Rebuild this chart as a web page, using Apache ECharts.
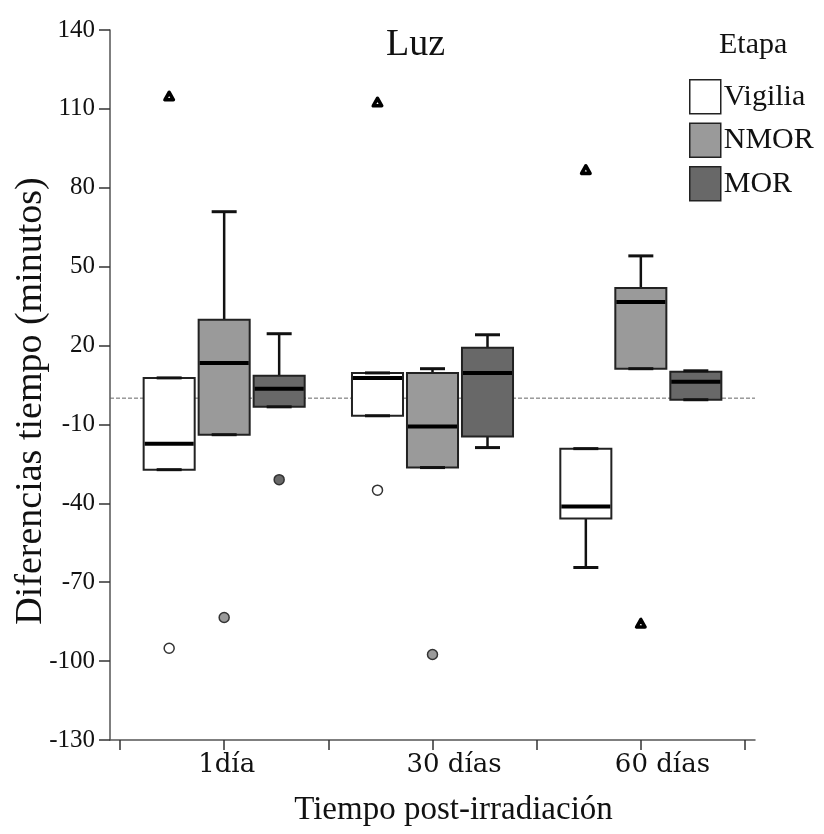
<!DOCTYPE html>
<html><head><meta charset="utf-8">
<script src="https://cdn.jsdelivr.net/npm/echarts@6/dist/echarts.min.js"></script>
<style>html,body{margin:0;padding:0;background:#fff}#c{width:824px;height:834px}</style>
</head><body><div id="c"></div>
<script>
// ---- data ----
const categories = ['1día', '30 días', '60 días'];
const stages = ['Vigilia', 'NMOR', 'MOR'];
// [min, Q1, median, Q3, max] per category
const vigiliaBox = [[-27.2, -27.2, -17.3, 7.7, 7.7], [-6.7, -6.7, 7.7, 9.6, 9.6], [-64.4, -45.8, -41.2, -19.2, -19.2]];
const nmorBox = [[-13.9, -13.9, 13.4, 29.8, 70.9], [-26.4, -26.4, -10.8, 9.6, 11.2], [11.2, 11.2, 36.6, 41.9, 54.1]];
const morBox = [[-3.3, -3.3, 3.6, 8.5, 24.5], [-18.8, -14.6, 9.6, 19.2, 24.1], [-0.6, -0.6, 6.2, 10.0, 10.4]];
// outliers (circles) and extremes (triangles): [categoryIndex, value]
const vigiliaOutliers = [[0, -95.1], [1, -35.0]];
const vigiliaExtremes = [[0, 114.8], [1, 112.5], [2, 86.8]];
const nmorOutliers = [[0, -83.4], [1, -97.5]];
const nmorExtremes = [[2, -85.7]];
const morOutliers = [[0, -31.0]];
const morExtremes = [];
const yMin = -130, yMax = 140, yInterval = 30;
const referenceValue = 0;

// ---- styling ----
const FONT = 'Liberation Serif';
const fills = ['#ffffff', '#9a9a9a', '#686868'];
const OFFSETS = [-0.264, 0, 0.264];
const BOX_W = 0.245, CAP_W = 0.12;

function boxRender(k) {
  return function (params, api) {
    const cat = api.value(0);
    const band = api.size([1, 0])[0];
    const cx = api.coord([cat, 0])[0] + OFFSETS[k] * band;
    const y = i => api.coord([cat, api.value(i)])[1];
    const ymin = y(1), yq1 = y(2), ymed = y(3), yq3 = y(4), ymax = y(5);
    const hw = BOX_W * band / 2, hc = CAP_W * band / 2;
    const ls = { stroke: '#111', lineWidth: 2.5 };
    return {
      type: 'group', children: [
        { type: 'line', shape: { x1: cx, y1: yq3, x2: cx, y2: ymax }, style: ls },
        { type: 'line', shape: { x1: cx, y1: yq1, x2: cx, y2: ymin }, style: ls },
        { type: 'rect', shape: { x: cx - hw, y: yq3, width: 2 * hw, height: yq1 - yq3 }, style: { fill: fills[k], stroke: '#222', lineWidth: 2 } },
        { type: 'line', shape: { x1: cx - hc, y1: ymax, x2: cx + hc, y2: ymax }, style: { stroke: '#111', lineWidth: 3 } },
        { type: 'line', shape: { x1: cx - hc, y1: ymin, x2: cx + hc, y2: ymin }, style: { stroke: '#111', lineWidth: 3 } },
        { type: 'line', shape: { x1: cx - hw + 1, y1: ymed, x2: cx + hw - 1, y2: ymed }, style: { stroke: '#000', lineWidth: 4 } }
      ]
    };
  };
}
function outlierRender(k, extreme) {
  return function (params, api) {
    const cat = api.value(0);
    const band = api.size([1, 0])[0];
    const p = api.coord([cat, api.value(1)]);
    const cx = p[0] + OFFSETS[k] * band, cy = p[1];
    if (extreme) {
      return { type: 'polygon', shape: { points: [[cx, cy - 4], [cx - 4.2, cy + 3.5], [cx + 4.2, cy + 3.5]] }, style: { fill: '#fff', stroke: '#000', lineWidth: 3.6, lineJoin: 'round' } };
    }
    return { type: 'circle', shape: { cx: cx, cy: cy, r: 5 }, style: { fill: fills[k], stroke: '#333', lineWidth: 1.5 } };
  };
}

const boxes = [vigiliaBox, nmorBox, morBox];
const outs = [vigiliaOutliers, nmorOutliers, morOutliers];
const exts = [vigiliaExtremes, nmorExtremes, morExtremes];

const series = [{
  type: 'line', xAxisIndex: 0, yAxisIndex: 0, silent: true, symbol: 'none',
  data: [[0, referenceValue], [1, referenceValue]],
  lineStyle: { type: 'dashed', color: '#666', width: 1 }, z: 1
}];
stages.forEach((s, k) => {
  series.push({
    type: 'custom', name: s, xAxisIndex: 1, yAxisIndex: 1,
    itemStyle: { color: fills[k], borderColor: '#222', borderWidth: 1.5 },
    renderItem: boxRender(k),
    encode: { x: 0, y: [1, 2, 3, 4, 5] },
    data: boxes[k].map((b, i) => [i].concat(b)), z: 3
  });
  series.push({
    type: 'custom', name: s + ' atípicos', xAxisIndex: 1, yAxisIndex: 1,
    renderItem: outlierRender(k, false), encode: { x: 0, y: 1 },
    data: outs[k], z: 4
  });
  series.push({
    type: 'custom', name: s + ' extremos', xAxisIndex: 1, yAxisIndex: 1,
    renderItem: outlierRender(k, true), encode: { x: 0, y: 1 },
    data: exts[k], z: 4
  });
});

const chart = echarts.init(document.getElementById('c'), null, { renderer: 'canvas' });
chart.setOption({
  animation: false,
  backgroundColor: '#fff',
  textStyle: { fontFamily: FONT },
  title: [
    { text: 'Luz', left: 386, top: 26, padding: 0, textStyle: { fontFamily: FONT, fontSize: 38, fontWeight: 'normal', color: '#111' } },
    { text: 'Etapa', left: 719, top: 30, padding: 0, textStyle: { fontFamily: FONT, fontSize: 30, fontWeight: 'normal', color: '#111' } }
  ],
  legend: {
    orient: 'vertical', left: 689, top: 79, padding: 0, itemWidth: 31, itemHeight: 34, itemGap: 8,
    icon: 'rect', selectedMode: false,
    data: stages.map((s, k) => ({ name: s, itemStyle: { color: fills[k], borderColor: '#222', borderWidth: 1.5 } })),
    textStyle: { fontFamily: FONT, fontSize: 30, color: '#111', lineHeight: 34, padding: [0, 0, 0, -2] }
  },
  grid: [
    { left: 110, right: 69, top: 30, bottom: 94, outerBoundsMode: 'none', containLabel: false },
    { left: 120, right: 79, top: 30, bottom: 94, outerBoundsMode: 'none', containLabel: false }
  ],
  xAxis: [
    {
      gridIndex: 0, type: 'value', min: 0, max: 1,
      axisLine: { show: true, onZero: false, lineStyle: { color: '#555', width: 1.5 } },
      axisTick: { show: false }, axisLabel: { show: false }, splitLine: { show: false },
      name: 'Tiempo post-irradiación', nameLocation: 'middle', nameGap: 54, nameMoveOverlap: false,
      nameTextStyle: { fontFamily: FONT, fontSize: 33, color: '#111', padding: [0, 0, 0, 42] }
    },
    {
      gridIndex: 1, type: 'category', data: categories, position: 'bottom',
      axisLine: { show: false, onZero: false },
      axisTick: { show: true, alignWithLabel: true, length: 10, lineStyle: { color: '#333', width: 1.5 } },
      axisLabel: { fontFamily: 'DejaVu Serif', fontSize: 26, color: '#111', margin: 12, align: 'left', padding: [0, 0, 0, -26] },
      splitLine: { show: false }
    },
    {
      gridIndex: 1, type: 'category', data: categories, position: 'bottom',
      axisLine: { show: false, onZero: false },
      axisTick: { show: true, length: 10, lineStyle: { color: '#333', width: 1.5 } },
      axisLabel: { show: false }, splitLine: { show: false }
    }
  ],
  yAxis: [
    {
      gridIndex: 0, type: 'value', min: yMin, max: yMax, interval: yInterval,
      axisLine: { show: true, onZero: false, lineStyle: { color: '#555', width: 1.5 } },
      axisTick: { show: true, length: 11, lineStyle: { color: '#333', width: 1.5 } },
      axisLabel: { fontFamily: FONT, fontSize: 25, color: '#111', margin: 15 },
      splitLine: { show: false },
      name: 'Diferencias tiempo (minutos)', nameLocation: 'middle', nameGap: 60, nameMoveOverlap: false,
      nameTextStyle: { fontFamily: FONT, fontSize: 38, color: '#111', padding: [0, 32, 0, 0] }
    },
    { gridIndex: 1, type: 'value', min: yMin, max: yMax, interval: yInterval, show: false, splitLine: { show: false } }
  ],
  series: series
});
</script></body></html>
